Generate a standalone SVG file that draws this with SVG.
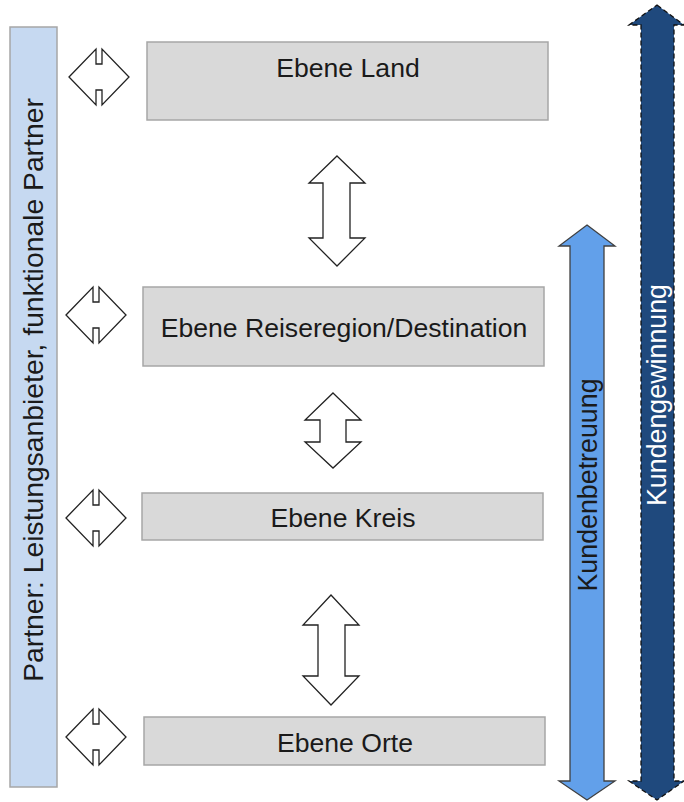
<svg xmlns="http://www.w3.org/2000/svg" width="684" height="802" viewBox="0 0 684 802">
<style>
.box{fill:#d9d9d9;stroke:#a6a6a6;stroke-width:1.5}
.lbl{font-family:"Liberation Sans",Arial,sans-serif;font-size:26.6px;fill:#1a1a1a;text-anchor:middle}
.wl{font-family:"Liberation Sans",Arial,sans-serif;font-size:26.8px;fill:#ffffff;text-anchor:middle}
.dbl{fill:#ffffff;stroke:#222222;stroke-width:1.3}
</style>
<defs>
<path id="dia" d="M-30,0 L-3,-28 L-3,-13 L3,-13 L3,-28 L30,0 L3,28 L3,13 L-3,13 L-3,28 Z"/>
</defs>
<g id="partner">
<rect x="10" y="27" width="47" height="760" fill="#c6d9f1" stroke="#a6a6a6" stroke-width="1.5"/>
<text class="lbl" style="font-size:28.3px" transform="translate(43,390) rotate(-90)">Partner: Leistungsanbieter, funktionale Partner</text>
</g>
<g id="land">
<rect class="box" x="147" y="42" width="401" height="78"/>
<text class="lbl" x="348" y="77">Ebene Land</text>
</g>
<g id="reiseregion">
<rect class="box" x="143" y="287" width="401" height="79"/>
<text class="lbl" x="344" y="337">Ebene Reiseregion/Destination</text>
</g>
<g id="kreis">
<rect class="box" x="142" y="493" width="401" height="47"/>
<text class="lbl" x="343" y="527">Ebene Kreis</text>
</g>
<g id="orte">
<rect class="box" x="144" y="717" width="401" height="48"/>
<text class="lbl" x="345" y="752">Ebene Orte</text>
</g>
<g id="kundenbetreuung">
<path d="M587,225 L615,246 L604,246 L604,781 L615,781 L587,800 L559,781 L570,781 L570,246 L559,246 Z" fill="#62a0ea" stroke="#404040" stroke-width="1.3"/>
<text class="wl" transform="translate(597,485) rotate(-90)" style="fill:#1a1a1a">Kundenbetreuung</text>
</g>
<g id="kundengewinnung">
<path d="M657,5 L684,25 L674,25 L674,781 L684,781 L657,800 L629,781 L641,781 L641,25 L629,25 Z" fill="#1f497d" stroke="#111111" stroke-width="1.3" stroke-dasharray="5,3"/>
<text class="wl" transform="translate(666,395) rotate(-90)">Kundengewinnung</text>
</g>
<g id="connectors">
<use href="#dia" class="dbl" x="99" y="77"/>
<use href="#dia" class="dbl" x="96" y="315"/>
<use href="#dia" class="dbl" x="96" y="518"/>
<use href="#dia" class="dbl" x="96" y="737"/>
<path class="dbl" d="M337,156 L365,183 L350,183 L350,238 L365,238 L337,266 L309,238 L323,238 L323,183 L309,183 Z"/>
<path class="dbl" d="M333,393 L361,420 L346,420 L346,442 L361,442 L333,468 L305,442 L320,442 L320,420 L305,420 Z"/>
<path class="dbl" d="M331,595 L359,625 L345,625 L345,676 L359,676 L331,705 L303,676 L318,676 L318,625 L303,625 Z"/>
</g>
</svg>
